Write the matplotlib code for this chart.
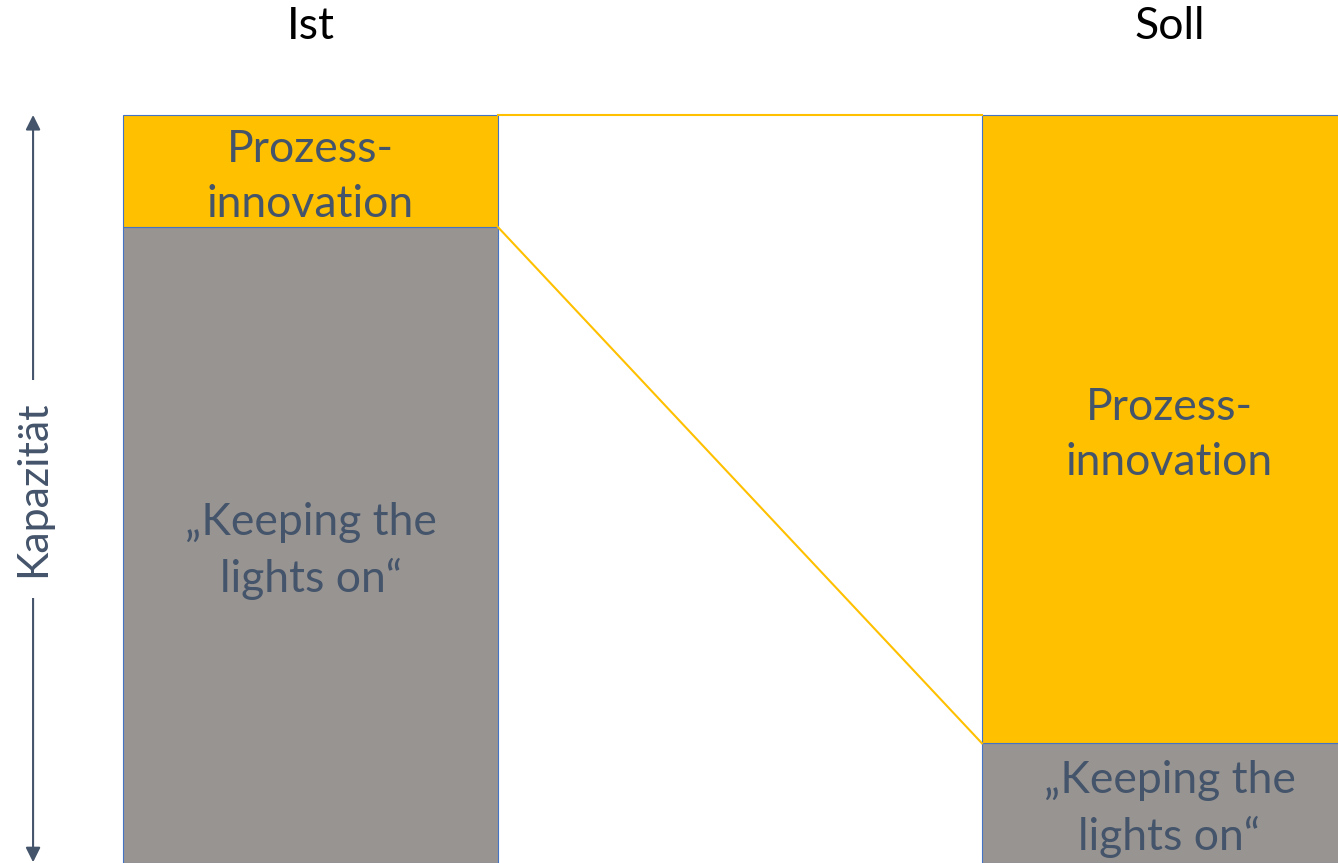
import matplotlib.pyplot as plt

categories = ["Ist", "Soll"]
keeping = [85, 16]       # "Keeping the lights on" share, %
prozess = [15, 84]       # Prozessinnovation share, %
seg_labels = ["„Keeping the\nlights on“", "Prozess-\ninnovation"]

ORANGE = "#FFC000"
GRAY = "#989492"
EDGE = "#4472C4"
TEXT = "#44546A"

plt.rcParams["font.family"] = ["Lato", "DejaVu Sans"]

fig = plt.figure(figsize=(13.38, 8.63), dpi=100)
ax = fig.add_axes([0, 0, 1, 1])
ax.set_xlim(-0.3615, 1.1962)
ax.set_ylim(0, 115.37)
ax.axis("off")

x = list(range(len(categories)))
width = 0.4366
ax.bar(x, keeping, width, color=GRAY, edgecolor=EDGE, linewidth=0.8)
ax.bar(x, prozess, width, bottom=keeping, color=ORANGE, edgecolor=EDGE, linewidth=0.8)

# connector lines between the bars
x_l = x[0] + width / 2
x_r = x[1] - width / 2
top = [k + p for k, p in zip(keeping, prozess)]
ax.plot([x_l, x_r], [top[0], top[1]], color=ORANGE, lw=1.5, zorder=1)
ax.plot([x_l, x_r], [keeping[0], keeping[1]], color=ORANGE, lw=1.5, zorder=1)

# labels sit a touch below the geometric centre, like the original slide
nudge = 0.8
for i, cat in enumerate(categories):
    ax.text(x[i], 111.8, cat, ha="center", va="center", fontsize=32, color="black")
    ax.text(x[i], keeping[i] / 2 - nudge, seg_labels[0], ha="center", va="center",
            fontsize=32, color=TEXT, linespacing=1.42)
    ax.text(x[i], keeping[i] + prozess[i] / 2 - nudge, seg_labels[1], ha="center",
            va="center", fontsize=32, color=TEXT, linespacing=1.42)

# capacity axis arrow
ax_x = -0.323
ax.annotate("", xy=(ax_x, 100), xytext=(ax_x, 0.1),
            arrowprops=dict(arrowstyle="<|-|>", color=TEXT, lw=1.5,
                            mutation_scale=22, shrinkA=0, shrinkB=0))
ax.text(ax_x, 50, "Kapazität", rotation=90, ha="center", va="center",
        fontsize=31, color=TEXT,
        bbox=dict(facecolor="white", edgecolor="none", pad=15))

fig.savefig("out.png", dpi=100)
